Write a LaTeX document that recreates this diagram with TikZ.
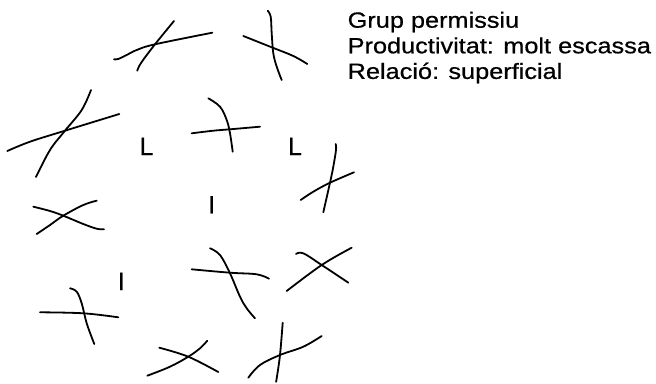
\documentclass[tikz,border=0pt]{standalone}
\usepackage{fontspec}
\usepackage{graphicx}
\setmainfont{Liberation Sans}
\newfontfamily\heavysans{Liberation Sans}[FakeBold=0.6]
\begin{document}
\begin{tikzpicture}[x=1pt,y=-1pt,
  pen/.style={line width=1.8pt, line cap=round, line join=round, black},
  hand/.style={smooth, tension=0.6},
  letter/.style={inner sep=0pt, anchor=base, font=\heavysans\fontsize{25}{30}\selectfont},
  caption/.style={inner sep=0pt, anchor=base west, font=\heavysans\fontsize{22}{25.6}\selectfont}]
\useasboundingbox (0,0) rectangle (656,383);

% caption block
\node[caption] (cap1) at (347.5,27.7) {\scalebox{1.15}[1]{Grup permissiu}};
\node[caption] (cap2) at (347.5,53.3) {\scalebox{1.15}[1]{Productivitat: molt escassa}};
\node[caption] (cap3) at (347.5,78.9) {\scalebox{1.15}[1]{Relació: superficial}};

% letters among the crosses
\node[letter] (l1) at (146.5,155) {L};
\node[letter] (l2) at (295,155) {L};
\node[letter] (i1) at (211.7,213.3) {I};
\node[letter] (i2) at (121.3,290) {I};

% hand-drawn crosses
\draw[pen] plot[hand] coordinates {(114,59.3) (118.3,59) (126.7,55) (136.7,50) (155,44.3) (212.3,32.7)};
\draw[pen] plot[hand] coordinates {(174,21) (155,44.3) (141,63) (137.3,70.7)};

\draw[pen] plot[hand] coordinates {(243.3,36) (271.7,47.3) (293.3,56) (307.3,64)};
\draw[pen] plot[hand] coordinates {(267.7,10.7) (270.7,16.7) (271.7,33.3) (273.3,53.3) (276.7,66.7) (281.7,80)};

\draw[pen] plot[hand] coordinates {(7.3,151) (30,141.7) (65,130.7) (119.3,114)};
\draw[pen] plot[hand] coordinates {(91,90) (81.7,110) (65,130.7) (50,150) (36,177)};

\draw[pen] plot[hand] coordinates {(208.3,98.3) (220,106.7) (226.7,120) (230,133.3) (232.7,151.7)};
\draw[pen] plot[hand] coordinates {(191.7,133.3) (213.3,130.7) (230,129.3) (260,126.7)};

\draw[pen] plot[hand] coordinates {(335.7,144) (336,150) (333.3,166.7) (330,182.7) (323.3,212.3)};
\draw[pen] plot[hand] coordinates {(300.7,200) (313.3,191.7) (330,182.7) (354,172.3)};

\draw[pen] plot[hand] coordinates {(33.3,206.7) (50,211) (63.3,215.7) (83.3,224) (96.7,228.7) (104,229.3)};
\draw[pen] plot[hand] coordinates {(36.7,234) (50,225) (63.3,215.7) (83.3,205) (96.7,200.7)};

\draw[pen] plot[hand] coordinates {(70,288.3) (76.7,291.7) (81.7,303.3) (86.7,323.3) (94.3,344)};
\draw[pen] plot[hand] coordinates {(40,312.3) (83.3,313.3) (118.3,317.3)};

\draw[pen] plot[hand] coordinates {(210,248.3) (220,255) (230,273.3) (240,296.7) (246.7,308.3) (255,318.3)};
\draw[pen] plot[hand] coordinates {(191.7,269.3) (230,272.7) (256.7,274.3) (269,278.7)};

\draw[pen] plot[hand] coordinates {(296,254) (303.3,253.3) (321.7,265) (348.3,282.7)};
\draw[pen] plot[hand] coordinates {(286.7,291) (321.7,265) (351.7,247.7)};

\draw[pen] plot[hand] coordinates {(159.3,347.7) (188.3,356.7) (218.3,372)};
\draw[pen] plot[hand] coordinates {(147.3,375.7) (170,366.7) (188.3,356.7) (200,348.3) (207.3,340.7)};

\draw[pen] plot[hand] coordinates {(282.7,322.7) (280,355) (276.7,378.3) (276,381.7)};
\draw[pen] plot[hand] coordinates {(248.3,377.7) (260,365) (280,355) (303.3,346.7) (321.7,336)};
\end{tikzpicture}
\end{document}
